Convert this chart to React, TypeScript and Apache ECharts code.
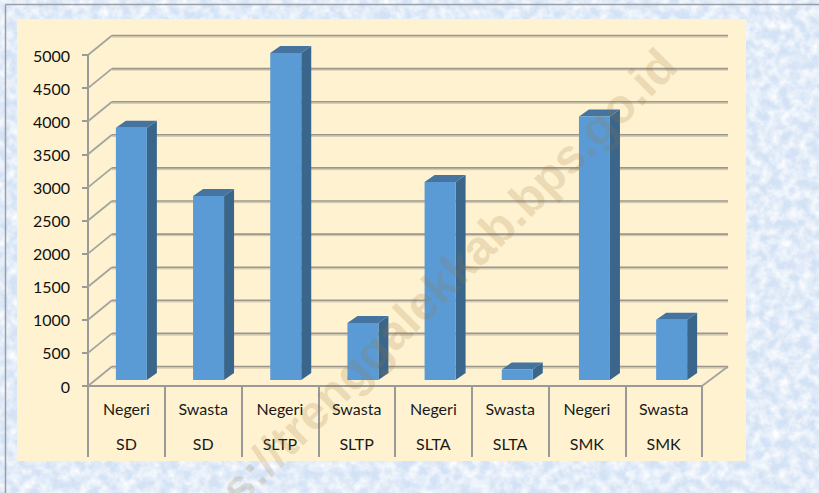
import React, { useEffect, useRef } from "react";
import * as echarts from "echarts";

const schoolTypes = ["Negeri", "Swasta", "Negeri", "Swasta", "Negeri", "Swasta", "Negeri", "Swasta"];
const levels = ["SD", "SD", "SLTP", "SLTP", "SLTA", "SLTA", "SMK", "SMK"];
const studentCounts = [3810, 2780, 4940, 860, 2990, 160, 3980, 910];
const yTicks = [0, 500, 1000, 1500, 2000, 2500, 3000, 3500, 4000, 4500, 5000];
const watermark = "s://trenggalekkab.bps.go.id";

const FONT = "Lato";
const WALL_DX = 26;
const WALL_DY = -19.5;
const BAR_FLOOR_DY = -6;
const BAR_W = 31;
const BAR_DX = 10;
const BAR_DY = -7;

const noise = encodeURIComponent(
  `<svg xmlns="http://www.w3.org/2000/svg" width="819" height="493"><filter id="n" x="0" y="0" width="100%" height="100%" color-interpolation-filters="sRGB"><feTurbulence type="fractalNoise" baseFrequency="0.1" numOctaves="4" seed="7"/><feColorMatrix type="matrix" values="0 0 0 0 1  0 0 0 0 1  0 0 0 0 1  1.7 0 0 0 -0.5"/></filter><rect width="819" height="493" fill="#d3e2f5"/><rect width="819" height="493" fill="#fff" filter="url(#n)"/></svg>`
);

export default function App() {
  const ref = useRef<HTMLDivElement>(null);
  useEffect(() => {
    document.body.style.margin = "0";
    const chart = echarts.init(ref.current!, null, { renderer: "svg" });
    chart.setOption({
      animation: false,
      backgroundColor: "transparent",
      textStyle: { fontFamily: FONT },
      grid: { left: 88, right: 117, top: 55, bottom: 107, containLabel: false },
      xAxis: {
        type: "category",
        data: schoolTypes.map((t, i) => `${t}\n${levels[i]}`),
        axisLine: { lineStyle: { color: "#9a9a9a", width: 2 } },
        axisTick: { show: true, alignWithLabel: false, interval: 0, length: 71, lineStyle: { color: "#9a9a9a", width: 2 } },
        axisLabel: { interval: 0, margin: 5, fontFamily: FONT, fontSize: 16, color: "#1a1a1a", lineHeight: 35 },
      },
      yAxis: {
        type: "value",
        min: 0,
        max: 5000,
        interval: 500,
        axisLine: { show: true, lineStyle: { color: "#9a9a9a", width: 2 } },
        axisTick: { show: true, length: 6, lineStyle: { color: "#9a9a9a", width: 2 } },
        axisLabel: { margin: 18, fontFamily: FONT, fontSize: 16, color: "#111", formatter: (v: number) => String(v) },
        splitLine: { show: false },
      },
      series: [
        {
          type: "custom",
          silent: true,
          clip: false,
          z: 1,
          data: yTicks.map((v) => [0, v]),
          renderItem: (params: any, api: any) => {
            const cs = params.coordSys;
            const y = api.coord([0, api.value(1)])[1];
            const x0 = cs.x;
            const x1 = cs.x + cs.width;
            const bx0 = x0 + WALL_DX - 2;
            const bx1 = x1 + WALL_DX;
            const by = y + WALL_DY;
            const children: any[] = [
              { type: "line", shape: { x1: bx0, y1: by + 1.5, x2: bx1, y2: by + 1.5 }, style: { stroke: "#d4cdb6", lineWidth: 1.5 } },
              { type: "line", shape: { x1: bx0, y1: by, x2: bx1, y2: by }, style: { stroke: "#9c978a", lineWidth: 1.6 } },
              { type: "line", shape: { x1: x0, y1: y, x2: bx0, y2: by }, style: { stroke: "#a3a3a0", lineWidth: 1.8 } },
            ];
            if (api.value(1) === 0) {
              children.push({ type: "line", shape: { x1: x1, y1: y, x2: bx1, y2: by }, style: { stroke: "#a3a3a0", lineWidth: 1.8 } });
            }
            return { type: "group", children };
          },
        },
        {
          type: "custom",
          silent: true,
          clip: false,
          z: 2,
          data: studentCounts.map((v, i) => [i, v]),
          renderItem: (_params: any, api: any) => {
            const i = api.value(0);
            const cx = api.coord([i, 0])[0] + 5 + i * 0.43;
            const y0 = api.coord([i, 0])[1] + BAR_FLOOR_DY;
            const yt = api.coord([i, api.value(1)])[1] + BAR_FLOOR_DY;
            const l = cx - BAR_W / 2;
            const r = cx + BAR_W / 2;
            return {
              type: "group",
              children: [
                { type: "polygon", shape: { points: [[r, y0], [r + BAR_DX, y0 + BAR_DY], [r + BAR_DX, yt + BAR_DY], [r, yt]] }, style: { fill: "#3a668c" } },
                { type: "polygon", shape: { points: [[l, yt], [l + BAR_DX, yt + BAR_DY], [r + BAR_DX, yt + BAR_DY], [r, yt]] }, style: { fill: "#44749f" } },
                { type: "rect", shape: { x: l, y: yt, width: BAR_W, height: y0 - yt }, style: { fill: "#5b9bd5" } },
              ],
            };
          },
        },
      ],
      graphic: [
        { type: "rect", z: -10, silent: true, shape: { x: 17, y: 19, width: 729, height: 442 }, style: { fill: "#fff2d0" } },
        { type: "line", z: -5, silent: true, shape: { x1: 5.5, y1: 4.5, x2: 819, y2: 4.5 }, style: { stroke: "#9a9ea6", lineWidth: 1.5 } },
        { type: "line", z: -5, silent: true, shape: { x1: 5.5, y1: 4.5, x2: 5.5, y2: 493 }, style: { stroke: "#9a9ea6", lineWidth: 1.5 } },
        {
          type: "text",
          z: 100,
          silent: true,
          x: 668,
          y: 57,
          rotation: Math.PI / 4,
          style: {
            text: watermark,
            fontFamily: "Liberation Sans",
            fontWeight: "bold",
            fontSize: 48,
            fill: "rgba(150,115,60,0.2)",
            align: "right",
            verticalAlign: "middle",
          },
        },
      ],
    });
    return () => chart.dispose();
  }, []);
  return (
    <div
      ref={ref}
      style={{
        width: 819,
        height: 493,
        overflow: "hidden",
        backgroundImage: `url("data:image/svg+xml,${noise}")`,
      }}
    />
  );
}
